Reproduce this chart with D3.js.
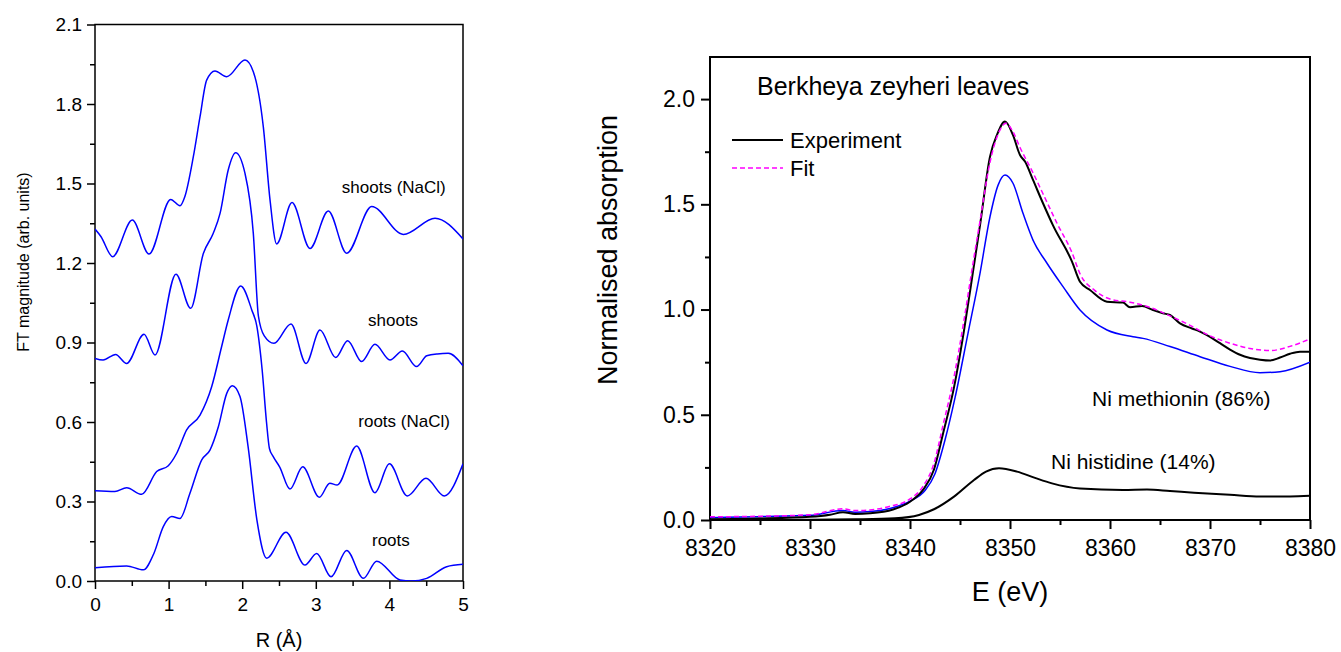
<!DOCTYPE html>
<html>
<head>
<meta charset="utf-8">
<script src="https://cdn.jsdelivr.net/npm/d3@7"></script>
<style>
	body { margin: 0; background: #fff; }
	text { font-family: "Liberation Sans", Arial, sans-serif; fill: #000; }
</style>
</head>
<body>
<svg id="chart" width="1341" height="652"></svg>
<script>

// left panel: FT magnitude vs R, four offset curves
var rootsFT = [[0,0.05],[0.43,0.057],[0.657,0.042],[0.8,0.104],[0.928,0.205],[1.042,0.243],[1.155,0.236],[1.29,0.331],[1.45,0.457],[1.562,0.494],[1.676,0.582],[1.79,0.708],[1.866,0.737],[1.97,0.696],[2.08,0.507],[2.2,0.23],[2.333,0.086],[2.595,0.184],[2.853,0.06],[3.012,0.104],[3.207,0.016],[3.42,0.115],[3.646,0.01],[3.827,0.075],[4.144,0.004],[4.3,0.0],[4.507,0.01],[4.778,0.054],[5,0.063]];
var rootsNaClFT = [[0,0.341],[0.27,0.338],[0.43,0.352],[0.634,0.327],[0.838,0.413],[0.996,0.435],[1.11,0.482],[1.245,0.57],[1.427,0.626],[1.585,0.733],[1.72,0.884],[1.81,0.985],[1.98,1.113],[2.13,1.023],[2.2,0.96],[2.27,0.8],[2.33,0.6],[2.37,0.5],[2.42,0.47],[2.51,0.43],[2.649,0.347],[2.822,0.431],[3.048,0.316],[3.19,0.369],[3.29,0.362],[3.555,0.509],[3.804,0.333],[4.0,0.442],[4.243,0.321],[4.497,0.388],[4.746,0.321],[5,0.442]];
var shootsFT = [[0,0.84],[0.11,0.834],[0.28,0.855],[0.43,0.821],[0.666,0.931],[0.815,0.853],[1.1,1.158],[1.3,1.029],[1.472,1.236],[1.607,1.312],[1.7,1.388],[1.81,1.551],[1.911,1.616],[2.038,1.538],[2.151,1.312],[2.22,1.0],[2.3,0.925],[2.432,0.897],[2.663,0.97],[2.867,0.821],[3.057,0.947],[3.27,0.843],[3.433,0.907],[3.623,0.828],[3.804,0.893],[4.008,0.834],[4.176,0.868],[4.37,0.809],[4.507,0.85],[4.65,0.857],[4.8,0.859],[5,0.812]];
var shootsNaClFT = [[0,1.328],[0.08,1.3],[0.24,1.224],[0.507,1.362],[0.734,1.234],[1.028,1.44],[1.155,1.416],[1.22,1.45],[1.336,1.601],[1.427,1.752],[1.517,1.89],[1.63,1.925],[1.789,1.903],[2.038,1.966],[2.151,1.922],[2.287,1.714],[2.378,1.438],[2.468,1.272],[2.677,1.428],[2.921,1.255],[3.17,1.396],[3.42,1.237],[3.759,1.413],[4.19,1.308],[4.62,1.369],[5,1.291]];
var ftCurves = [shootsNaClFT, shootsFT, rootsNaClFT, rootsFT];
var ftLabels = ["shoots (NaCl)", "shoots", "roots (NaCl)", "roots"];
var ftLabelPos = [[4.06,1.487],[4.05,0.985],[4.2,0.604],[4.02,0.155]];
var ftXTicks = [0,1,2,3,4,5];
var ftYTicks = [0,0.3,0.6,0.9,1.2,1.5,1.8,2.1];

// right panel: XANES of Berkheya zeyheri leaves
var expE = [8320,8325,8330,8332,8333.3,8334.5,8336,8338.3,8340,8341.3,8342.4,8343.3,8344.4,8345.4,8346.3,8347,8348,8348.7,8349.5,8350.3,8351,8351.5,8352.3,8353.3,8354.3,8356.2,8357,8358,8359.7,8361.3,8362,8363.2,8364.3,8365.3,8366,8367,8368.2,8369,8370,8371,8372,8373,8374,8375,8376,8377,8378,8379,8380];
var expV = [0.004,0.007,0.015,0.025,0.037,0.029,0.032,0.05,0.087,0.143,0.24,0.41,0.63,0.9,1.18,1.4,1.726,1.83,1.893,1.829,1.734,1.703,1.616,1.505,1.40,1.228,1.132,1.093,1.037,1.033,1.011,1.017,0.998,0.982,0.974,0.934,0.91,0.895,0.87,0.84,0.81,0.785,0.77,0.762,0.758,0.772,0.79,0.8,0.8];
var fitE = [8320,8325,8330,8333.3,8334.5,8336,8338,8340,8341.3,8342.4,8343.3,8344.4,8345.4,8346.3,8347,8348,8348.7,8349.6,8350.3,8351,8352.3,8353.3,8354.7,8356.2,8357,8358.5,8360,8362,8364,8366,8368,8370,8372,8374,8376,8378,8380];
var fitV = [0.015,0.018,0.025,0.053,0.045,0.048,0.065,0.1,0.16,0.27,0.45,0.68,0.95,1.22,1.42,1.7,1.82,1.885,1.845,1.77,1.65,1.55,1.41,1.27,1.17,1.09,1.05,1.035,1.01,0.97,0.925,0.875,0.84,0.815,0.805,0.825,0.86];
var metE = [8320,8325,8330,8333.3,8334.5,8336,8338,8340,8341.5,8342.5,8343.5,8344.5,8345.8,8347,8348,8348.8,8349.5,8350.3,8351.3,8352.3,8353.7,8355.3,8357,8359.7,8362.3,8363.3,8366,8369,8372,8375,8377,8380];
var metV = [0.011,0.016,0.022,0.045,0.037,0.04,0.055,0.09,0.14,0.22,0.38,0.58,0.887,1.172,1.441,1.59,1.639,1.6,1.457,1.33,1.22,1.109,0.998,0.903,0.871,0.863,0.824,0.776,0.73,0.7,0.705,0.75];
var hisE = [8320,8330,8334.6,8338.5,8340.9,8342.4,8344.4,8346.4,8347.6,8348.9,8350.7,8352.5,8354.2,8357,8361.3,8363.7,8366,8368.4,8372,8375,8378,8380];
var hisV = [0.0,0.001,0.003,0.008,0.024,0.051,0.111,0.19,0.23,0.246,0.23,0.2,0.174,0.15,0.143,0.145,0.138,0.13,0.12,0.112,0.112,0.115];
var xanesXTicks = [8320,8330,8340,8350,8360,8370,8380];
var xanesYTicks = [0,0.5,1.0,1.5,2.0];

var svg = d3.select("#chart");

function zip(xs, ys) {
	return xs.map(function (x, i) { return [x, ys[i]]; });
}

function range(a, b, step) {
	var out = [];
	for (var v = a; v <= b + 1e-9; v += step) out.push(+v.toFixed(4));
	return out;
}

// axes with outward major + minor ticks, frame drawn separately
function drawAxes(x, y, o) {
	var x0 = x.range()[0], x1 = x.range()[1];
	var y0 = y.range()[0], y1 = y.range()[1];

	var gx = svg.append("g").attr("transform", "translate(0," + y0 + ")")
		.call(d3.axisBottom(x).tickValues(o.xTicks).tickSize(o.major).tickSizeOuter(0)
			.tickPadding(o.xPad).tickFormat(o.xFormat));
	var gxm = svg.append("g").attr("transform", "translate(0," + y0 + ")")
		.call(d3.axisBottom(x).tickValues(o.xMinor).tickSize(o.minor).tickSizeOuter(0).tickFormat(""));
	var gy = svg.append("g").attr("transform", "translate(" + x0 + ",0)")
		.call(d3.axisLeft(y).tickValues(o.yTicks).tickSize(o.major).tickSizeOuter(0)
			.tickPadding(o.yPad).tickFormat(d3.format(".1f")));
	var gym = svg.append("g").attr("transform", "translate(" + x0 + ",0)")
		.call(d3.axisLeft(y).tickValues(o.yMinor).tickSize(o.minor).tickSizeOuter(0).tickFormat(""));

	[gx, gxm, gy, gym].forEach(function (g) {
		g.attr("font-size", null).attr("font-family", null);
		g.select(".domain").remove();
		g.selectAll("line").attr("stroke", "#000").attr("stroke-width", o.sw);
		g.selectAll("text").style("font-size", o.tickFont + "px");
	});

	svg.append("rect")
		.attr("x", x0).attr("y", y1)
		.attr("width", x1 - x0).attr("height", y0 - y1)
		.attr("fill", "none").attr("stroke", "#000").attr("stroke-width", o.sw);
}

function clipFor(id, x, y) {
	svg.append("clipPath").attr("id", id).append("rect")
		.attr("x", x.range()[0]).attr("y", y.range()[1])
		.attr("width", x.range()[1] - x.range()[0])
		.attr("height", y.range()[0] - y.range()[1]);
}

// ---------- left panel ----------
var xL = d3.scaleLinear().domain([0, 5]).range([95, 463]);
var yL = d3.scaleLinear().domain([0, 2.1]).range([581, 24.5]);

drawAxes(xL, yL, {
	xTicks: ftXTicks, xMinor: range(0.5, 4.5, 1), xFormat: d3.format("d"),
	yTicks: ftYTicks, yMinor: range(0.15, 1.95, 0.3),
	major: 8, minor: 5, xPad: 9, yPad: 5, sw: 1.5, tickFont: 19
});
clipFor("clipL", xL, yL);

var lineL = d3.line()
	.x(function (d) { return xL(d[0]); })
	.y(function (d) { return yL(d[1]); })
	.curve(d3.curveMonotoneX);

svg.append("g").attr("clip-path", "url(#clipL)")
	.selectAll("path").data(ftCurves).enter().append("path")
	.attr("d", lineL)
	.attr("fill", "none").attr("stroke", "#0000ff").attr("stroke-width", 1.5);

svg.selectAll("text.ftlab").data(ftLabels).enter().append("text")
	.attr("class", "ftlab")
	.attr("x", function (d, i) { return xL(ftLabelPos[i][0]); })
	.attr("y", function (d, i) { return yL(ftLabelPos[i][1]); })
	.attr("dy", "0.35em")
	.attr("text-anchor", "middle")
	.style("font-size", "17px")
	.text(function (d) { return d; });

svg.append("text").attr("x", 279).attr("y", 647)
	.attr("text-anchor", "middle").style("font-size", "20px").text("R (Å)");
svg.append("text").attr("transform", "translate(29,262) rotate(-90)")
	.attr("text-anchor", "middle").style("font-size", "16px").text("FT magnitude (arb. units)");

// ---------- right panel ----------
var xR = d3.scaleLinear().domain([8320, 8380]).range([710, 1310]);
var yR = d3.scaleLinear().domain([0, 2.2]).range([520, 57]);

drawAxes(xR, yR, {
	xTicks: xanesXTicks, xMinor: range(8325, 8375, 10), xFormat: d3.format("d"),
	yTicks: xanesYTicks, yMinor: range(0.25, 1.75, 0.5),
	major: 9, minor: 5, xPad: 11, yPad: 6, sw: 2, tickFont: 23
});
clipFor("clipR", xR, yR);

var lineR = d3.line()
	.x(function (d) { return xR(d[0]); })
	.y(function (d) { return yR(d[1]); })
	.curve(d3.curveMonotoneX);

var gR = svg.append("g").attr("clip-path", "url(#clipR)");
gR.append("path").datum(zip(hisE, hisV)).attr("d", lineR)
	.attr("fill", "none").attr("stroke", "#000").attr("stroke-width", 2);
gR.append("path").datum(zip(metE, metV)).attr("d", lineR)
	.attr("fill", "none").attr("stroke", "#0000ff").attr("stroke-width", 1.5);
gR.append("path").datum(zip(expE, expV)).attr("d", lineR)
	.attr("fill", "none").attr("stroke", "#000").attr("stroke-width", 2);
gR.append("path").datum(zip(fitE, fitV)).attr("d", lineR)
	.attr("fill", "none").attr("stroke", "#ff00ff").attr("stroke-width", 1.5)
	.attr("stroke-dasharray", "5,3");

svg.append("text").attr("x", 757).attr("y", 95)
	.style("font-size", "25px").text("Berkheya zeyheri leaves");

// legend
svg.append("line").attr("x1", 732).attr("x2", 783).attr("y1", 140).attr("y2", 140)
	.attr("stroke", "#000").attr("stroke-width", 2);
svg.append("text").attr("x", 790).attr("y", 148).style("font-size", "22px").text("Experiment");
svg.append("line").attr("x1", 732).attr("x2", 783).attr("y1", 168).attr("y2", 168)
	.attr("stroke", "#ff00ff").attr("stroke-width", 1.5).attr("stroke-dasharray", "5,3");
svg.append("text").attr("x", 790).attr("y", 176).style("font-size", "22px").text("Fit");

svg.append("text").attr("x", 1092).attr("y", 406).style("font-size", "21px").text("Ni methionin (86%)");
svg.append("text").attr("x", 1051).attr("y", 469).style("font-size", "21px").text("Ni histidine (14%)");

svg.append("text").attr("x", 1010).attr("y", 601)
	.attr("text-anchor", "middle").style("font-size", "27px").text("E (eV)");
svg.append("text").attr("transform", "translate(617,250) rotate(-90)")
	.attr("text-anchor", "middle").style("font-size", "27px").text("Normalised absorption");

</script>
</body>
</html>
